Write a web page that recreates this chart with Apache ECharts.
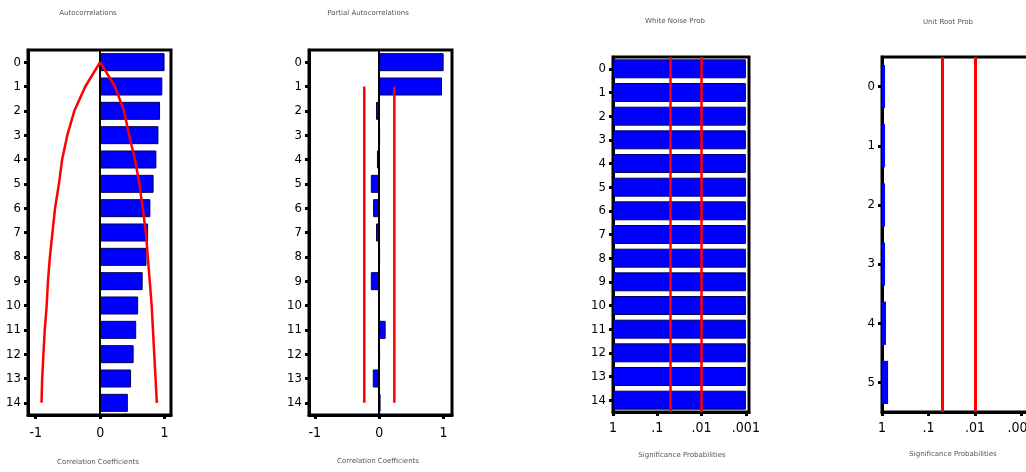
<!DOCTYPE html>
<html>
<head>
<meta charset="utf-8">
<script src="https://cdn.jsdelivr.net/npm/echarts@6/dist/echarts.min.js"></script>
<style>
html,body{margin:0;padding:0;background:#fff;}
#c{width:1026px;height:472px;}
</style>
</head>
<body>
<div id="c"></div>
<script>
// ---- data ----
const lags15 = ['0','1','2','3','4','5','6','7','8','9','10','11','12','13','14'];
const lags6 = ['0','1','2','3','4','5'];
const acf = [1.0, 0.965, 0.93, 0.905, 0.873, 0.83, 0.78, 0.745, 0.72, 0.66, 0.59, 0.56, 0.52, 0.48, 0.43];
const acfUpper = [0, 0.23, 0.37, 0.45, 0.54, 0.61, 0.66, 0.71, 0.74, 0.77, 0.80, 0.82, 0.84, 0.86, 0.88];
const acfLower = [0, -0.23, -0.40, -0.51, -0.59, -0.64, -0.70, -0.74, -0.78, -0.81, -0.83, -0.86, -0.88, -0.90, -0.91];
const pacf = [1.0, 0.975, -0.05, 0.01, -0.035, -0.13, -0.095, -0.05, 0.01, -0.13, -0.015, 0.10, 0.01, -0.10, 0.02];
const pacfBoundUpper = 0.235;
const pacfBoundLower = -0.232;
const whiteNoiseProb = [0.001,0.001,0.001,0.001,0.001,0.001,0.001,0.001,0.001,0.001,0.001,0.001,0.001,0.001,0.001];
const unitRootProb = [0.86, 0.86, 0.86, 0.86, 0.82, 0.74];
const probRefLines = [0.05, 0.01];
const corrTicks = [-1, 0, 1];
const probTicks = [1, 0.1, 0.01, 0.001];
const titles = ['Autocorrelations', 'Partial Autocorrelations', 'White Noise Prob', 'Unit Root Prob'];
const xNames = ['Correlation Coefficients', 'Correlation Coefficients', 'Significance Probabilities', 'Significance Probabilities'];

// ---- styling ----
const FONT = "'Liberation Sans Narrow','DejaVu Sans Condensed','Liberation Sans',sans-serif";
const BLUE = '#0000ff';
const RED = '#ff0000';

function probFmt(v){
  const l = Math.log10(v);
  const r = Math.round(l);
  if (Math.abs(l - r) > 1e-6) return '';
  if (r === 0) return '1';
  return '.' + '0'.repeat(-r - 1) + '1';
}

const grids = [
  {left: 28, top: 50, width: 143, height: 365},
  {left: 309, top: 50, width: 143, height: 365},
  {left: 613, top: 57, width: 136, height: 355},
  {left: 882, top: 57, width: 153, height: 355}
].map(g => Object.assign({show: true, borderColor: '#000', borderWidth: 3, backgroundColor: '#fff',
  outerBoundsMode: 'none', containLabel: false}, g));

function valueAxis(i, min, max){
  return {
    type: 'value', gridIndex: i, min: min, max: max, position: 'bottom',
    splitLine: {show: false},
    axisLine: {show: true, onZero: false, lineStyle: {color: '#000', width: 3}},
    axisTick: {show: true, length: 4, lineStyle: {color: '#000', width: 3}, customValues: corrTicks},
    axisLabel: {color: '#000', fontSize: 14, fontFamily: FONT, margin: 11, customValues: corrTicks,
      formatter: v => (v < 0 ? '-' : '') + Math.abs(v)}
  };
}
function logAxis(i, min){
  return {
    type: 'log', logBase: 10, gridIndex: i, min: min, max: 1, inverse: true, position: 'bottom',
    splitLine: {show: false}, minorTick: {show: false},
    axisLine: {show: true, onZero: false, lineStyle: {color: '#000', width: 3}},
    axisTick: {show: true, length: 4, lineStyle: {color: '#000', width: 3}, customValues: probTicks},
    axisLabel: {color: '#000', fontSize: 14, fontFamily: FONT, margin: 9, customValues: probTicks, formatter: probFmt,
      hideOverlap: false}
  };
}
function catAxis(i, data){
  return {
    type: 'category', gridIndex: i, data: data, inverse: true, position: 'left', z: 0,
    axisLine: {show: true, onZero: false, lineStyle: {color: '#000', width: 3}},
    axisTick: {show: true, alignWithLabel: true, length: 4, lineStyle: {color: '#000', width: 3}},
    axisLabel: {color: '#000', fontSize: 13, fontFamily: FONT, margin: 7},
    splitLine: {show: false}
  };
}
const barStyle = {color: BLUE, borderColor: '#00005a', borderWidth: 1};
function vLines(vals, width){
  return {
    silent: true, symbol: ['none','none'], label: {show: false},
    lineStyle: {color: RED, type: 'solid', width: width},
    data: vals.map(v => ({xAxis: v}))
  };
}
const zeroLine = {
  silent: true, symbol: ['none','none'], label: {show: false},
  lineStyle: {color: '#000', type: 'solid', width: 2},
  data: [{xAxis: 0}]
};

const titlePos = [[88, 13], [368, 13], [675, 21], [948, 22]];
const namePos = [[98, 462], [378, 461], [682, 455], [953, 454]];
const graphics = [];
titles.forEach((t, i) => graphics.push({type: 'text', x: titlePos[i][0], y: titlePos[i][1],
  style: {text: t, fontSize: 7, fill: '#555', fontFamily: 'DejaVu Sans', align: 'center', verticalAlign: 'middle'}}));
xNames.forEach((t, i) => graphics.push({type: 'text', x: namePos[i][0], y: namePos[i][1],
  style: {text: t, fontSize: 7, fill: '#555', fontFamily: 'DejaVu Sans', align: 'center', verticalAlign: 'middle'}}));

const option = {
  animation: false,
  backgroundColor: '#fff',
  grid: grids,
  xAxis: [valueAxis(0, -1.12, 1.10), valueAxis(1, -1.09, 1.13), logAxis(2, 0.00085), logAxis(3, 0.00051)],
  yAxis: [catAxis(0, lags15), catAxis(1, lags15), catAxis(2, lags15), catAxis(3, lags6)],
  graphic: graphics,
  series: [
    {type: 'bar', xAxisIndex: 0, yAxisIndex: 0, data: acf, barCategoryGap: '26%', itemStyle: barStyle, markLine: zeroLine, z: 2},
    {type: 'line', xAxisIndex: 0, yAxisIndex: 0, data: acfUpper.map((v, i) => [v, i]), symbol: 'none',
      lineStyle: {color: RED, width: 2.5}, z: 5},
    {type: 'line', xAxisIndex: 0, yAxisIndex: 0, data: acfLower.map((v, i) => [v, i]), symbol: 'none',
      lineStyle: {color: RED, width: 2.5}, z: 5},
    {type: 'bar', xAxisIndex: 1, yAxisIndex: 1, data: pacf, barCategoryGap: '26%', itemStyle: barStyle, markLine: zeroLine, z: 2},
    {type: 'line', xAxisIndex: 1, yAxisIndex: 1, data: [[pacfBoundLower, 1], [pacfBoundLower, 14]], symbol: 'none',
      lineStyle: {color: RED, width: 2.5}, z: 5},
    {type: 'line', xAxisIndex: 1, yAxisIndex: 1, data: [[pacfBoundUpper, 1], [pacfBoundUpper, 14]], symbol: 'none',
      lineStyle: {color: RED, width: 2.5}, z: 5},
    {type: 'bar', xAxisIndex: 2, yAxisIndex: 2, data: whiteNoiseProb, barCategoryGap: '20%', itemStyle: barStyle,
      markLine: vLines(probRefLines, 2.5), z: 2},
    {type: 'bar', xAxisIndex: 3, yAxisIndex: 3, data: unitRootProb, barCategoryGap: '27%',
      itemStyle: {color: BLUE, borderWidth: 0}, markLine: vLines(probRefLines, 3), z: 6}
  ]
};
const chart = echarts.init(document.getElementById('c'), null, {renderer: 'canvas'});
chart.setOption(option);
</script>
</body>
</html>
